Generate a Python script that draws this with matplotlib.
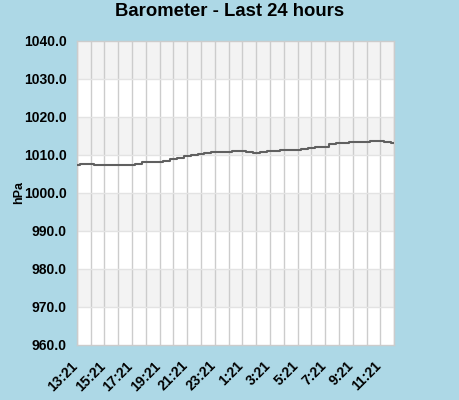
import matplotlib
matplotlib.use("Agg")
import matplotlib.pyplot as plt
import matplotlib.transforms as mtransforms
import numpy as np

plt.rcParams['font.family'] = ['Liberation Sans', 'DejaVu Sans']

# Hours since 13:21 (half-hour samples)
hours = [0, 0.5, 1, 1.5, 2, 2.5, 3, 3.5, 4, 4.5, 5, 5.5, 6, 6.5, 7, 7.5,
         8, 8.5, 9, 9.5, 10, 10.5, 11, 11.5, 12, 12.5, 13, 13.5, 14, 14.5,
         15, 15.5, 16, 16.5, 17, 17.5, 18, 18.5, 19, 19.5, 20, 20.5, 21,
         21.5, 22, 22.5, 23]
pressure = [1007.2, 1007.6, 1007.6, 1007.3, 1007.3, 1007.3, 1007.3, 1007.3,
            1007.3, 1007.55, 1008.0, 1008.0, 1008.0, 1008.3, 1008.8, 1009.1,
            1009.66, 1010.0, 1010.3, 1010.45, 1010.7, 1010.7, 1010.7, 1010.9,
            1011.0, 1010.7, 1010.45, 1010.7, 1011.0, 1011.1, 1011.2, 1011.2,
            1011.2, 1011.5, 1011.75, 1011.9, 1012.0, 1012.7, 1013.0, 1013.2,
            1013.4, 1013.4, 1013.4, 1013.6, 1013.7, 1013.4, 1013.2]

tick_hours = [0, 2, 4, 6, 8, 10, 12, 14, 16, 18, 20, 22]
tick_labels = ["13:21", "15:21", "17:21", "19:21", "21:21", "23:21",
               "1:21", "3:21", "5:21", "7:21", "9:21", "11:21"]
y_ticks = [960, 970, 980, 990, 1000, 1010, 1020, 1030, 1040]

bg = '#add8e6'
fig = plt.figure(figsize=(4.6, 4.0), dpi=100, facecolor=bg)
ax = fig.add_axes([76.7/460, 1 - 344.7/400, (394.3-76.7)/460, (344.7-40.7)/400])
ax.set_facecolor('white')

ax.set_xlim(0, 23)
ax.set_ylim(960, 1040)

# alternating bands
for i, lo in enumerate(y_ticks[:-1]):
    if i % 2 == 1:
        ax.axhspan(lo, lo + 10, color='#f3f3f3', zorder=0, lw=0)
for y in y_ticks[1:-1]:
    ax.axhline(y, color='#e3e3e3', lw=1.0, zorder=1)

ax.set_xticks(tick_hours)
ax.set_xticks(range(0, 24), minor=True)
ax.set_xticklabels(tick_labels, rotation=45, ha='right', rotation_mode='anchor',
                   fontsize=10, fontweight='bold')
ax.set_yticks(y_ticks)
ax.set_yticklabels([f"{v:.1f}" for v in y_ticks], fontsize=10, fontweight='bold')
ax.tick_params(axis='both', which='both', length=0)
ax.tick_params(axis='y', pad=7)
ax.tick_params(axis='x', pad=10)
offset = mtransforms.ScaledTranslation(-6/100, 0, fig.dpi_scale_trans)
for lab in ax.get_xticklabels():
    lab.set_transform(lab.get_transform() + offset)
ax.xaxis.grid(True, which='both', color='#cccccc', lw=1.0, zorder=1)
ax.set_axisbelow(True)

for s in ax.spines.values():
    s.set_color('#cccccc')
    s.set_linewidth(1.0)

ax.plot(hours, pressure, color='#606060', lw=1.5, drawstyle='steps-mid', zorder=3)

ax.set_ylabel('hPa', fontsize=9, fontweight='bold')
ax.yaxis.set_label_coords((25 - 76.7) / 317.6, 0.5)

fig.text(230/460, 1 - 12/400, 'Barometer - Last 24 hours', ha='center', va='center',
         fontsize=13.3, fontweight='bold')

fig.savefig('out.png', dpi=100, facecolor=bg)
